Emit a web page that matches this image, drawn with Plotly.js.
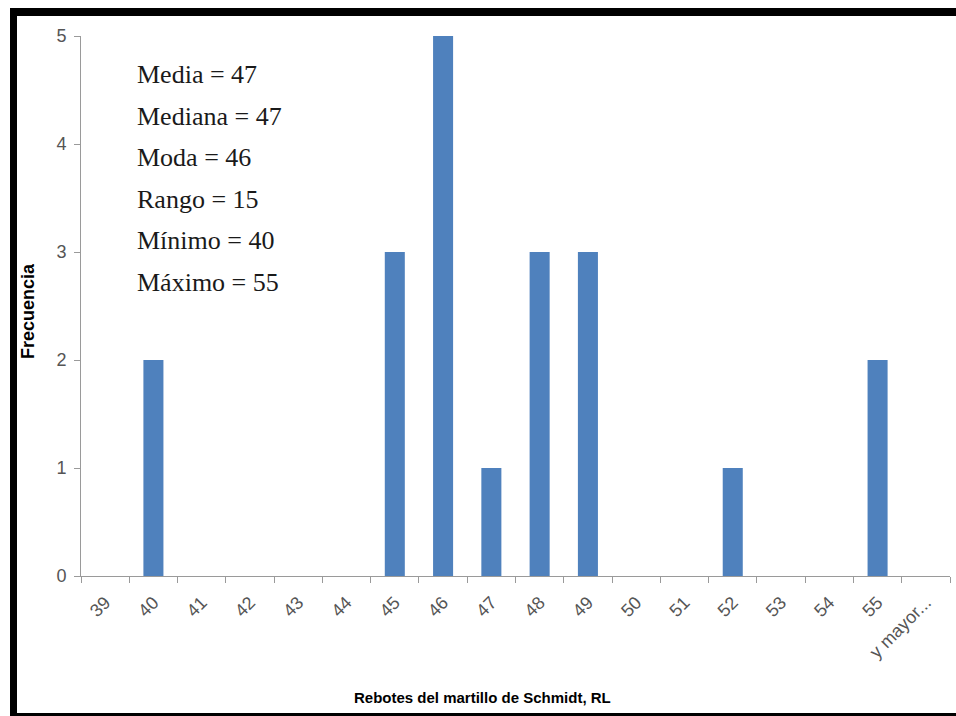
<!DOCTYPE html>
<html>
<head>
<meta charset="utf-8">
<script src="https://cdn.plot.ly/plotly-3.0.1.min.js"></script>
<style>
  html, body { margin: 0; padding: 0; background: #fff; }
  #wrap { position: relative; width: 956px; height: 716px; overflow: hidden; }
  #chart { position: absolute; left: 0; top: 0; width: 956px; height: 716px; }
  #frame { position: absolute; left: 10px; top: 8px; width: 960px; height: 708px;
           border-left: 7px solid #000; border-top: 8px solid #000; border-bottom: 3px solid #000;
           box-sizing: border-box; pointer-events: none; }
</style>
</head>
<body>
<div id="wrap">
  <div id="chart"></div>
  <div id="frame"></div>
</div>
<script>
const categories = ['39','40','41','42','43','44','45','46','47','48','49','50','51','52','53','54','55','y mayor...'];
const frequencies = [0, 2, 0, 0, 0, 0, 3, 5, 1, 3, 3, 0, 0, 1, 0, 0, 2, 0];
const statLabels = ['Media = 47', 'Mediana = 47', 'Moda = 46', 'Rango = 15', 'Mínimo = 40', 'Máximo = 55'];
const xTitle = 'Rebotes del martillo de Schmidt, RL';
const yTitle = 'Frecuencia';

const W = 956, H = 716;
const M = { l: 81, r: 6, t: 36, b: 140 };
const plotW = W - M.l - M.r, plotH = H - M.t - M.b;
const px2paperX = px => (px - M.l) / plotW;
const px2paperY = py => (H - M.b - py) / plotH;

const annotations = statLabels.map((txt, i) => ({
  text: txt, xref: 'paper', yref: 'paper',
  x: px2paperX(135), y: px2paperY(75 + i * 41.4),
  xanchor: 'left', yanchor: 'middle', showarrow: false,
  font: { family: 'Liberation Serif, DejaVu Serif, serif', size: 26, color: '#1a1a1a' }
}));
annotations.push({
  text: '<b>' + xTitle + '</b>', xref: 'paper', yref: 'paper',
  x: px2paperX(482), y: px2paperY(697), xanchor: 'center', yanchor: 'middle', showarrow: false,
  font: { family: 'Liberation Sans, Arial, sans-serif', size: 15, color: '#000' }
});
annotations.push({
  text: '<b>' + yTitle + '</b>', xref: 'paper', yref: 'paper', textangle: -90,
  x: px2paperX(28), y: px2paperY(311), xanchor: 'center', yanchor: 'middle', showarrow: false,
  font: { family: 'Liberation Sans, Arial, sans-serif', size: 18, color: '#000' }
});

const trace = {
  type: 'bar', x: categories, y: frequencies,
  marker: { color: '#4F81BD', line: { width: 0 } },
  hoverinfo: 'x+y'
};

const layout = {
  width: W, height: H,
  margin: M,
  paper_bgcolor: '#fff', plot_bgcolor: '#fff',
  bargap: 0.585,
  showlegend: false,
  font: { family: 'Liberation Sans, Arial, sans-serif', color: '#595959' },
  xaxis: {
    type: 'category', tickangle: -45,
    showline: true, linecolor: '#9a9a9a', linewidth: 1,
    ticks: 'outside', tickson: 'boundaries', ticklen: 6, tickcolor: '#9a9a9a',
    ticklabelstandoff: 8,
    showgrid: false, zeroline: false,
    tickfont: { size: 18, color: '#555555' },
    automargin: false
  },
  yaxis: {
    range: [0, 5], dtick: 1, tick0: 0,
    showline: true, linecolor: '#9a9a9a', linewidth: 1,
    ticks: 'outside', ticklen: 6, tickcolor: '#9a9a9a',
    ticklabelstandoff: 4,
    showgrid: false, zeroline: false,
    tickfont: { size: 18, color: '#555555' },
    automargin: false
  },
  annotations: annotations
};

Plotly.newPlot('chart', [trace], layout, { displayModeBar: false, staticPlot: true });
</script>
</body>
</html>
